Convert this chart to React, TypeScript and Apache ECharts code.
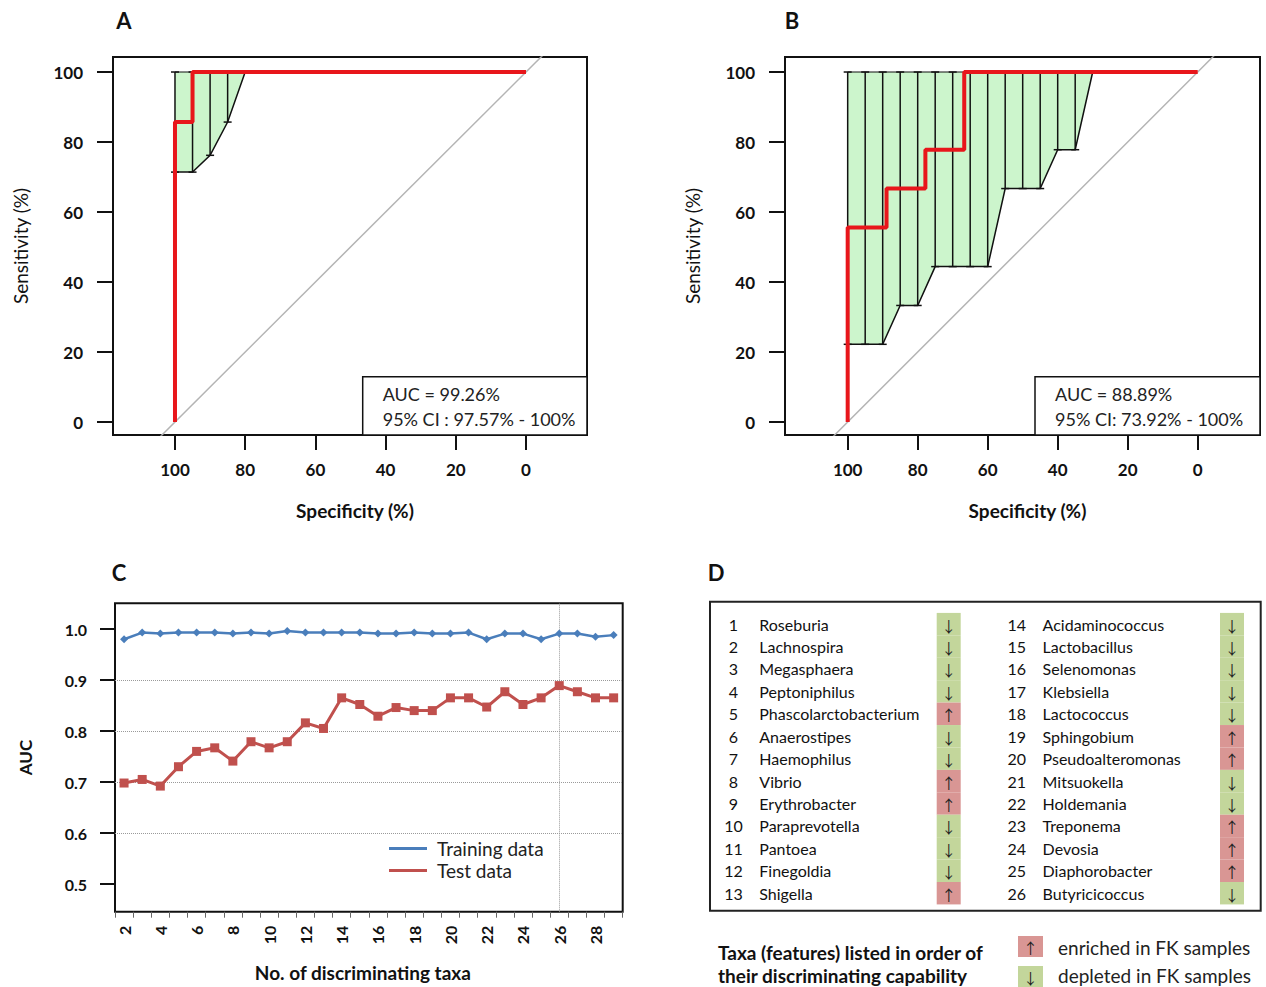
import React, { useEffect, useRef } from 'react';
import * as echarts from 'echarts';

// ---------- Panel A (ROC, training) ----------
const rocASpec = [100, 100, 95, 95, 0];
const rocASens = [0, 85.7, 85.7, 100, 100];
const ciASpec = [100, 95, 90, 85, 80];
const ciALower = [71.4, 71.4, 76.2, 85.7, 100];
const barsASpec = [100, 95, 90, 85];
const barsALower = [71.4, 71.4, 76.2, 85.7];
const aucAText = ['AUC = 99.26%', '95% CI : 97.57% - 100%'];

// ---------- Panel B (ROC, test) ----------
const rocBSpec = [100, 100, 88.9, 88.9, 77.8, 77.8, 66.7, 66.7, 0];
const rocBSens = [0, 55.6, 55.6, 66.7, 66.7, 77.8, 77.8, 100, 100];
const ciBSpec = [100, 90, 85, 80, 75, 60, 55, 45, 40, 35, 30];
const ciBLower = [22.2, 22.2, 33.3, 33.3, 44.4, 44.4, 66.7, 66.7, 77.8, 77.8, 100];
const barsBSpec = [100, 95, 90, 85, 80, 75, 70, 65, 60, 55, 50, 45, 40, 35];
const barsBLower = [22.2, 22.2, 22.2, 33.3, 33.3, 44.4, 44.4, 44.4, 44.4, 66.7, 66.7, 66.7, 77.8, 77.8];
const aucBText = ['AUC = 88.89%', '95% CI: 73.92% - 100%'];

const rocTicks = [0, 20, 40, 60, 80, 100];
const chanceLine = [[120, -20], [-20, 120]];

// ---------- Panel C (AUC vs number of taxa) ----------
const nTaxa = ['2', '3', '4', '5', '6', '7', '8', '9', '10', '11', '12', '13', '14', '15', '16', '17', '18', '19', '20', '21', '22', '23', '24', '25', '26', '27', '28', '29'];
const trainAUC = [0.980, 0.993, 0.991, 0.993, 0.993, 0.993, 0.991, 0.993, 0.991, 0.996, 0.993, 0.993, 0.993, 0.993, 0.991, 0.991, 0.993, 0.991, 0.991, 0.993, 0.980, 0.991, 0.991, 0.980, 0.991, 0.991, 0.985, 0.988];
const testAUC = [0.698, 0.705, 0.692, 0.730, 0.760, 0.767, 0.741, 0.779, 0.767, 0.779, 0.816, 0.805, 0.865, 0.852, 0.829, 0.846, 0.840, 0.840, 0.865, 0.865, 0.847, 0.877, 0.852, 0.865, 0.889, 0.877, 0.865, 0.865];
const aucTicks = [0.5, 0.6, 0.7, 0.8, 0.9, 1.0];
const aucGrid = [0.6, 0.7, 0.8, 0.9];
const chosenN = '26';

// ---------- Panel D (taxa table) ----------
const taxaNames = ['Roseburia', 'Lachnospira', 'Megasphaera', 'Peptoniphilus', 'Phascolarctobacterium', 'Anaerostipes', 'Haemophilus', 'Vibrio', 'Erythrobacter', 'Paraprevotella', 'Pantoea', 'Finegoldia', 'Shigella', 'Acidaminococcus', 'Lactobacillus', 'Selenomonas', 'Klebsiella', 'Lactococcus', 'Sphingobium', 'Pseudoalteromonas', 'Mitsuokella', 'Holdemania', 'Treponema', 'Devosia', 'Diaphorobacter', 'Butyricicoccus'];
const taxaDir = ['down', 'down', 'down', 'down', 'up', 'down', 'down', 'up', 'up', 'down', 'down', 'down', 'up', 'down', 'down', 'down', 'down', 'down', 'up', 'up', 'down', 'down', 'up', 'up', 'up', 'down'];

const FONT = 'Lato, "Open Sans", sans-serif';
const ARROW_FONT = '15px "Noto Sans CJK SC", "DejaVu Sans"';
const RED = '#e8161b';
const GREEN_FILL = '#ccf5cc';
const UP_COLOR = '#d99694';
const DOWN_COLOR = '#c3d69b';

const makeCiRender = (spec: number[], lower: number[]) => (params: any, api: any) => {
  if (params.dataIndex !== 0) return null;
  const low = spec.map((s, i) => api.coord([s, lower[i]]));
  const up = spec.map((s) => api.coord([s, 100])).reverse();
  return {
    type: 'group',
    children: [
      { type: 'polygon', shape: { points: low.concat(up) }, style: { fill: GREEN_FILL } },
      { type: 'polyline', shape: { points: low }, style: { stroke: '#111', lineWidth: 1.5, fill: null } },
      { type: 'polyline', shape: { points: up }, style: { stroke: '#111', lineWidth: 1.2, fill: null } },
    ],
  };
};

const barRender = (params: any, api: any) => {
  const s = api.value(0);
  const p1 = api.coord([s, api.value(1)]);
  const p2 = api.coord([s, api.value(2)]);
  const st = { stroke: '#111', lineWidth: 1.5 };
  return {
    type: 'group',
    children: [
      { type: 'line', shape: { x1: p1[0], y1: p1[1], x2: p2[0], y2: p2[1] }, style: st },
      { type: 'line', shape: { x1: p1[0] - 4, y1: p1[1], x2: p1[0] + 4, y2: p1[1] }, style: st },
      { type: 'line', shape: { x1: p2[0] - 4, y1: p2[1], x2: p2[0] + 4, y2: p2[1] }, style: st },
    ],
  };
};

const tableRender = (params: any, api: any) => {
  const col = api.value(0);
  const row = api.value(1);
  const idx = api.value(2);
  const o = api.coord([col, row]);
  const h = api.size([0, 1])[1];
  const up = taxaDir[idx] === 'up';
  return {
    type: 'group',
    children: [
      { type: 'rect', shape: { x: o[0] + 226.7, y: o[1] - h / 2, width: 24, height: h }, style: { fill: up ? UP_COLOR : DOWN_COLOR } },
      { type: 'text', style: { text: up ? '↑' : '↓', x: o[0] + 238.7, y: o[1] + 1, align: 'center', verticalAlign: 'middle', font: ARROW_FONT, lineHeight: 16, fill: '#222' } },
      { type: 'text', style: { text: String(idx + 1), x: o[0] + 23.5, y: o[1], align: 'center', verticalAlign: 'middle', font: '16px ' + FONT, fill: '#111' } },
      { type: 'text', style: { text: taxaNames[idx], x: o[0] + 49.3, y: o[1], align: 'left', verticalAlign: 'middle', font: '16px ' + FONT, fill: '#111' } },
    ],
  };
};

function rocXAxis(gridIndex: number, min: number, max: number) {
  return {
    gridIndex, type: 'value', inverse: true, min, max,
    axisLine: { show: false, onZero: false }, splitLine: { show: false },
    axisTick: { show: true, length: 15, customValues: rocTicks, lineStyle: { color: '#111', width: 2 } },
    axisLabel: { customValues: rocTicks, margin: 26, fontSize: 17, fontWeight: 'bold', color: '#111', fontFamily: FONT },
    name: 'Specificity (%)', nameLocation: 'middle', nameGap: 66,
    nameTextStyle: { fontSize: 19, fontWeight: 'bold', color: '#111', fontFamily: FONT, padding: [0, 0, 0, 10] },
  };
}
function rocYAxis(gridIndex: number) {
  return {
    gridIndex, type: 'value', min: -3.71, max: 104.29,
    axisLine: { show: false, onZero: false }, splitLine: { show: false },
    axisTick: { show: true, length: 16, customValues: rocTicks, lineStyle: { color: '#111', width: 2 } },
    axisLabel: { customValues: rocTicks, margin: 30, fontSize: 17, fontWeight: 'bold', color: '#111', fontFamily: FONT },
    name: 'Sensitivity (%)', nameLocation: 'middle', nameGap: 83, nameRotate: 90,
    nameTextStyle: { fontSize: 19, color: '#111', fontFamily: FONT },
  };
}

function aucBox(x: number, y: number, w: number, h: number, tx: number, lines: string[]) {
  return {
    type: 'group', z: 100,
    children: [
      { type: 'rect', shape: { x, y, width: w, height: h }, style: { fill: '#fff', stroke: '#111', lineWidth: 1.5 } },
      { type: 'text', style: { text: lines[0], x: tx, y: y + 17, verticalAlign: 'middle', font: '18px ' + FONT, fill: '#222' } },
      { type: 'text', style: { text: lines[1], x: tx, y: y + 42, verticalAlign: 'middle', font: '18px ' + FONT, fill: '#222' } },
    ],
  };
}

export default function App() {
  const ref = useRef<HTMLDivElement>(null);
  useEffect(() => {
    if (!ref.current) return;
    const chart = echarts.init(ref.current, null, { renderer: 'svg' });
    const option: any = {
      animation: false,
      backgroundColor: '#fff',
      textStyle: { fontFamily: FONT },
      grid: [
        { left: 113, top: 57, width: 474, height: 378, show: true, borderColor: '#111', borderWidth: 2, backgroundColor: 'transparent' },
        { left: 785, top: 57, width: 475, height: 378, show: true, borderColor: '#111', borderWidth: 2, backgroundColor: 'transparent' },
        { left: 115, top: 603.3, width: 507.7, height: 308.4, show: true, borderColor: '#111', borderWidth: 2, backgroundColor: 'transparent' },
        { left: 710, top: 601.7, width: 550.7, height: 309, show: true, borderColor: '#222', borderWidth: 2, backgroundColor: 'transparent' },
      ],
      xAxis: [
        rocXAxis(0, -17.38, 117.66),
        rocXAxis(1, -17.8, 117.91),
        {
          gridIndex: 2, type: 'category', data: nTaxa, boundaryGap: true,
          axisLine: { show: false, onZero: false },
          axisTick: { show: true, interval: 0, length: 6, lineStyle: { color: '#666', width: 1 } },
          axisLabel: { interval: 1, rotate: 90, margin: 14, fontSize: 16, fontWeight: 'bold', color: '#111', fontFamily: FONT },
          splitLine: { show: false },
          name: 'No. of discriminating taxa', nameLocation: 'middle', nameGap: 51,
          nameTextStyle: { fontSize: 19, fontWeight: 'bold', color: '#111', fontFamily: FONT, padding: [0, 12, 0, 0] },
        },
        { gridIndex: 3, type: 'value', min: 0, max: 1.944, show: false },
      ],
      yAxis: [
        rocYAxis(0),
        rocYAxis(1),
        {
          gridIndex: 2, type: 'value', min: 0.4457, max: 1.0504,
          axisLine: { show: false, onZero: false }, splitLine: { show: false },
          axisTick: { show: true, length: 15, customValues: aucTicks, lineStyle: { color: '#111', width: 2 } },
          axisLabel: { customValues: aucTicks, margin: 28, fontSize: 16, fontWeight: 'bold', color: '#111', fontFamily: FONT, formatter: (v: number) => v.toFixed(1) },
          name: 'AUC', nameLocation: 'middle', nameGap: 81, nameRotate: 90,
          nameTextStyle: { fontSize: 17, fontWeight: 'bold', color: '#111', fontFamily: FONT },
        },
        { gridIndex: 3, type: 'value', min: 0, max: 13.78, inverse: true, show: false },
      ],
      legend: {
        left: 389, top: 839, orient: 'vertical', itemGap: 3, padding: 0,
        icon: 'rect', itemWidth: 38, itemHeight: 3,
        data: ['Training data', 'Test data'],
        textStyle: { fontSize: 19, color: '#222', fontFamily: FONT, padding: [0, 0, 0, 5] },
      },
      series: [
        // Panel A
        { type: 'line', xAxisIndex: 0, yAxisIndex: 0, data: chanceLine, showSymbol: false, silent: true, lineStyle: { color: '#b4b4b4', width: 1.5 }, clip: true, z: 1 },
        { type: 'custom', xAxisIndex: 0, yAxisIndex: 0, renderItem: makeCiRender(ciASpec, ciALower), data: ciASpec.map((s, i) => [s, ciALower[i]]), z: 2, silent: true },
        { type: 'custom', xAxisIndex: 0, yAxisIndex: 0, renderItem: barRender, data: barsASpec.map((s, i) => [s, barsALower[i], 100]), z: 3, silent: true },
        { type: 'line', xAxisIndex: 0, yAxisIndex: 0, data: rocASpec.map((s, i) => [s, rocASens[i]]), showSymbol: false, lineStyle: { color: RED, width: 4 }, z: 5 },
        // Panel B
        { type: 'line', xAxisIndex: 1, yAxisIndex: 1, data: chanceLine, showSymbol: false, silent: true, lineStyle: { color: '#b4b4b4', width: 1.5 }, clip: true, z: 1 },
        { type: 'custom', xAxisIndex: 1, yAxisIndex: 1, renderItem: makeCiRender(ciBSpec, ciBLower), data: ciBSpec.map((s, i) => [s, ciBLower[i]]), z: 2, silent: true },
        { type: 'custom', xAxisIndex: 1, yAxisIndex: 1, renderItem: barRender, data: barsBSpec.map((s, i) => [s, barsBLower[i], 100]), z: 3, silent: true },
        { type: 'line', xAxisIndex: 1, yAxisIndex: 1, data: rocBSpec.map((s, i) => [s, rocBSens[i]]), showSymbol: false, lineStyle: { color: RED, width: 4 }, z: 5 },
        // Panel C
        {
          name: 'Training data', type: 'line', xAxisIndex: 2, yAxisIndex: 2, data: trainAUC,
          symbol: 'diamond', symbolSize: 8, itemStyle: { color: '#4a7ebb' }, lineStyle: { color: '#4a7ebb', width: 2.5 }, z: 5,
          markLine: {
            silent: true, symbol: 'none', label: { show: false },
            lineStyle: { color: '#9a9a9a', type: 'dotted', width: 1 },
            data: aucGrid.map((v) => ({ yAxis: v })).concat([{ xAxis: chosenN } as any]),
          },
        },
        {
          name: 'Test data', type: 'line', xAxisIndex: 2, yAxisIndex: 2, data: testAUC,
          symbol: 'rect', symbolSize: 9, itemStyle: { color: '#c0504d' }, lineStyle: { color: '#c0504d', width: 3 }, z: 5,
        },
        // Panel D
        {
          type: 'custom', xAxisIndex: 3, yAxisIndex: 3, renderItem: tableRender, silent: true,
          data: taxaNames.map((_, i) => [i < 13 ? 0 : 1, (i % 13) + 1, i]),
        },
      ],
      graphic: [
        { type: 'text', style: { text: 'A', x: 124, y: 20, align: 'center', verticalAlign: 'middle', font: 'bold 22px ' + FONT, fill: '#111' } },
        { type: 'text', style: { text: 'B', x: 792, y: 20, align: 'center', verticalAlign: 'middle', font: 'bold 22px ' + FONT, fill: '#111' } },
        { type: 'text', style: { text: 'C', x: 119, y: 572, align: 'center', verticalAlign: 'middle', font: 'bold 22px ' + FONT, fill: '#111' } },
        { type: 'text', style: { text: 'D', x: 716, y: 572, align: 'center', verticalAlign: 'middle', font: 'bold 22px ' + FONT, fill: '#111' } },
        aucBox(362.7, 376.7, 224.3, 58.3, 382.7, aucAText),
        aucBox(1035, 376.7, 225, 58.3, 1055, aucBText),
        { type: 'text', style: { text: 'Taxa (features) listed in order of', x: 718, y: 952, verticalAlign: 'middle', font: 'bold 19px ' + FONT, fill: '#111' } },
        { type: 'text', style: { text: 'their discriminating capability', x: 718, y: 975, verticalAlign: 'middle', font: 'bold 19px ' + FONT, fill: '#111' } },
        { type: 'rect', shape: { x: 1018, y: 936, width: 25, height: 21 }, style: { fill: UP_COLOR } },
        { type: 'text', style: { text: '↑', x: 1030.5, y: 947, align: 'center', verticalAlign: 'middle', font: ARROW_FONT, lineHeight: 16, fill: '#222' } },
        { type: 'text', style: { text: 'enriched in FK samples', x: 1058, y: 947, verticalAlign: 'middle', font: '19px ' + FONT, fill: '#222' } },
        { type: 'rect', shape: { x: 1018, y: 966, width: 25, height: 21 }, style: { fill: DOWN_COLOR } },
        { type: 'text', style: { text: '↓', x: 1030.5, y: 977, align: 'center', verticalAlign: 'middle', font: ARROW_FONT, lineHeight: 16, fill: '#222' } },
        { type: 'text', style: { text: 'depleted in FK samples', x: 1058, y: 975, verticalAlign: 'middle', font: '19px ' + FONT, fill: '#222' } },
      ],
    };
    chart.setOption(option);
    return () => chart.dispose();
  }, []);
  return <div ref={ref} style={{ position: 'absolute', left: 0, top: 0, width: 1266, height: 987 }} />;
}
